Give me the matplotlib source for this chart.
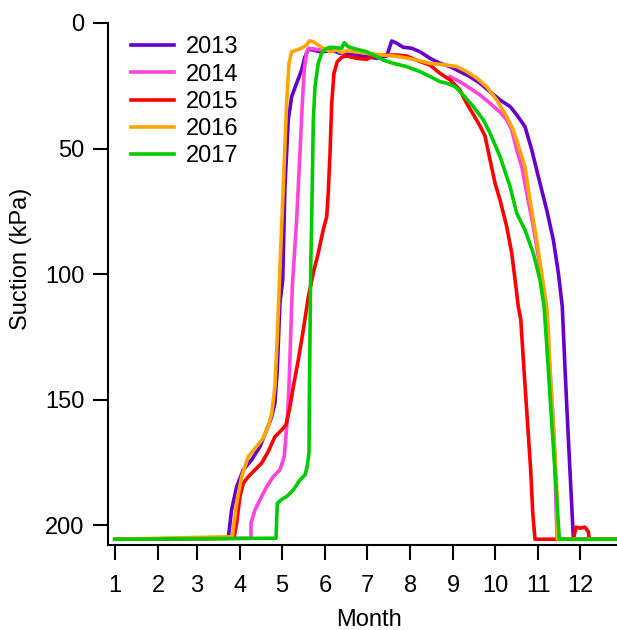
import numpy as np
import matplotlib
matplotlib.use('Agg')
import matplotlib.pyplot as plt

plt.rcParams['font.family'] = ['Liberation Sans', 'DejaVu Sans']

######################## Data (day of year, suction in kPa) ########################

years = ['2013', '2014', '2015', '2016', '2017']
colors = ['#6600CC', '#FF44DD', '#FF0000', '#FFA500', '#00CC00']

# first day of each month and the month labels
month_start = [0, 31, 59, 90, 120, 151, 181, 212, 243, 273, 304, 334]
month_labels = ['1', '2', '3', '4', '5', '6', '7', '8', '9', '10', '11', '12']

day_2013 = [0, 81.4, 83.8, 87.4, 92.2, 98.2, 104.2, 109.0, 112.6, 114.9, 116.6, 118.5,
            120.5, 122.1, 124.5, 126.9, 130.5, 134.1, 136.5, 138.9, 142.5, 147.3, 156.8,
            161.6, 173.6, 180.8, 188.0, 195.2, 198.8, 202.4, 207.1, 213.1, 219.1, 226.3,
            233.5, 240.7, 247.8, 255.0, 262.2, 269.4, 276.6, 283.8, 288.6, 294.5, 299.4,
            304.1, 310.1, 314.9, 318.5, 321.3, 323.3, 325.6, 327.4, 329.3, 365]
suc_2013 = [205.5, 205.1, 193.8, 184.6, 177.9, 173.9, 168.6, 162.0, 156.7, 151.4, 138.1, 111.6,
            102.3, 65.2, 38.6, 29.4, 24.0, 18.7, 13.5, 10.5, 10.8, 11.5, 11.1,
            12.1, 12.8, 13.5, 14.1, 13.2, 7.2, 8.1, 9.7, 10.1, 11.5, 14.1,
            16.1, 17.4, 19.4, 21.4, 24.0, 27.4, 30.7, 33.3, 36.6, 41.3, 50.6,
            61.2, 74.4, 86.4, 99.6, 112.9, 138.1, 164.7, 184.6, 205.5, 205.5]

day_2014 = [0, 97.7, 97.7, 100.6, 104.2, 109.0, 113.7, 118.5, 121.6, 122.8, 124.1, 125.0,
            126.2, 127.4, 130.5, 132.9, 134.6, 136.0, 137.7, 139.4, 148.0, np.nan,
            240.7, 247.8, 255.0, 262.2, 269.4, 276.6, 281.4, 285.0, 288.6, 292.2, 295.8,
            300.5, 304.1, 307.7, 309.6, 312.5, 315.4, 317.5, 365]
suc_2014 = [205.5, 205.1, 199.1, 193.8, 189.8, 184.6, 180.6, 177.9, 172.6, 164.7, 155.4, 144.8,
            124.9, 105.0, 78.4, 51.9, 32.0, 18.7, 11.5, 10.1, 10.8, np.nan,
            21.4, 23.4, 26.0, 28.7, 32.0, 35.5, 38.6, 42.6, 50.6, 57.2, 67.8,
            81.1, 93.0, 105.0, 116.9, 138.1, 164.7, 205.5, 205.5]

day_2015 = [0, 85.5, 87.4, 89.8, 92.2, 95.8, 100.6, 105.4, 110.1, 114.9, 119.8, 122.8,
            125.3, 128.1, 131.7, 135.3, 138.9, 143.0, 146.0, 149.6, 152.1, 153.2, 154.5,
            155.7, 157.3, 159.7, 162.9, 166.5, 173.6, 180.8, 184.4, 192.7, 202.4, 209.6,
            219.1, 226.3, 233.5, 240.7, 247.8, 252.6, 258.0, 262.2, 265.8, 269.4, 273.0,
            276.6, 281.4, 285.0, 287.4, 289.7, 291.5, 293.8, 296.2, 298.6, 300.1, 301.7,
            329.2, 331.2, 334.1, 337.6, 340.0, 340.7, 365]
suc_2015 = [205.5, 205.1, 199.1, 188.5, 183.2, 180.6, 177.9, 175.2, 170.6, 164.7, 162.0, 160.0,
            154.0, 144.8, 134.1, 122.2, 109.0, 98.3, 91.7, 82.4, 77.1, 67.8, 51.9,
            32.0, 20.1, 15.4, 13.7, 13.2, 14.1, 14.5, 13.5, 12.8, 12.8, 13.2,
            15.4, 16.8, 20.1, 22.7, 26.7, 32.0, 37.0, 41.0, 45.0, 54.5, 63.8,
            70.5, 81.1, 91.7, 102.3, 112.9, 118.2, 138.1, 158.0, 177.9, 195.1, 205.5,
            205.5, 200.7, 201.1, 200.7, 202.5, 205.5, 205.5]

day_2016 = [0, 84.3, 87.4, 91.0, 95.8, 101.8, 106.5, 110.1, 112.6, 114.9, 116.6, 118.0,
            120.9, 123.3, 125.0, 126.9, 130.5, 134.1, 137.7, 139.6, 142.5, 146.0, 149.6,
            154.5, 159.3, 162.9, 166.5, 180.8, 192.7, 204.7, 216.7, 226.3, 238.3, 245.5,
            252.7, 259.9, 267.0, 274.2, 281.4, 286.1, 290.0, 294.5, 298.1, 302.9, 306.5,
            310.1, 311.3, 312.5, 315.4, 317.3, 317.7, 365]
suc_2016 = [205.5, 204.5, 191.2, 180.6, 172.6, 168.6, 165.3, 160.7, 155.4, 144.8, 124.9, 105.0,
            65.2, 32.0, 16.1, 11.5, 10.8, 10.1, 8.8, 7.2, 7.5, 8.8, 10.1,
            11.5, 10.8, 11.9, 11.1, 12.1, 12.8, 13.5, 14.8, 16.1, 16.8, 17.4,
            19.4, 22.0, 25.4, 30.7, 37.3, 42.6, 49.3, 57.2, 70.5, 86.4, 99.6,
            112.9, 122.2, 138.1, 164.7, 184.6, 205.5, 205.5]

day_2017 = [0, 115.7, 116.6, 119.8, 123.4, 128.1, 132.9, 136.5, 138.1, 139.4, 139.6, 140.1,
            140.6, 141.3, 142.5, 143.7, 146.0, 148.5, 150.9, 154.5, 162.9, 164.7, 167.6,
            173.6, 180.8, 185.6, 192.7, 199.9, 209.6, 219.1, 228.7, 233.5, 238.3, 244.3,
            250.2, 257.4, 264.6, 269.4, 276.6, 283.8, 288.6, 294.5, 300.5, 305.3, 308.2,
            309.4, 311.3, 314.4, 316.8, 319.2, 365]
suc_2017 = [205.5, 205.1, 191.2, 189.6, 188.5, 185.9, 181.9, 179.9, 176.6, 171.1, 151.2, 124.9,
            98.3, 78.4, 38.6, 25.4, 16.1, 12.1, 10.5, 9.7, 10.1, 7.9, 9.5,
            10.5, 11.5, 12.8, 14.8, 16.1, 17.4, 19.4, 22.0, 23.4, 24.0, 25.4,
            28.7, 33.3, 38.6, 43.9, 53.2, 65.2, 75.8, 82.4, 91.7, 102.3, 112.9,
            122.2, 138.1, 164.7, 184.6, 205.5, 205.5]

days = [day_2013, day_2014, day_2015, day_2016, day_2017]
sucs = [suc_2013, suc_2014, suc_2015, suc_2016, suc_2017]

################################ Plot ################################

fig = plt.figure(figsize=(6.17, 6.30), dpi=100)
ax = fig.add_axes([0.175, 0.1357, 0.825, 0.828])

for d, s, c, y in zip(days, sucs, colors, years):
    ax.plot(d, s, color=c, lw=2.6, label=y)

ax.set_xlim(-5, 360.6)
ax.set_ylim(207.6, 0)

ax.set_xticks(month_start)
ax.set_xticklabels(month_labels)
ax.set_yticks([0, 50, 100, 150, 200])

ax.spines['top'].set_visible(False)
ax.spines['right'].set_visible(False)
ax.spines['left'].set_linewidth(1.5)
ax.spines['bottom'].set_linewidth(1.5)
ax.tick_params(axis='both', direction='out', length=11, width=1.5, labelsize=17)
ax.tick_params(axis='x', pad=11)
ax.tick_params(axis='y', pad=6)

ax.set_xlabel('Month', fontsize=17)
ax.set_ylabel('Suction (kPa)', fontsize=17)
ax.xaxis.set_label_coords(0.512, -0.124)
ax.yaxis.set_label_coords(-0.15, 0.547)

ax.legend(frameon=False, fontsize=17, loc='upper left', bbox_to_anchor=(0.046, 0.974),
          handlelength=1.82, handletextpad=0.5, labelspacing=0.22,
          borderpad=0, borderaxespad=0)

fig.savefig('out.png', dpi=100)
